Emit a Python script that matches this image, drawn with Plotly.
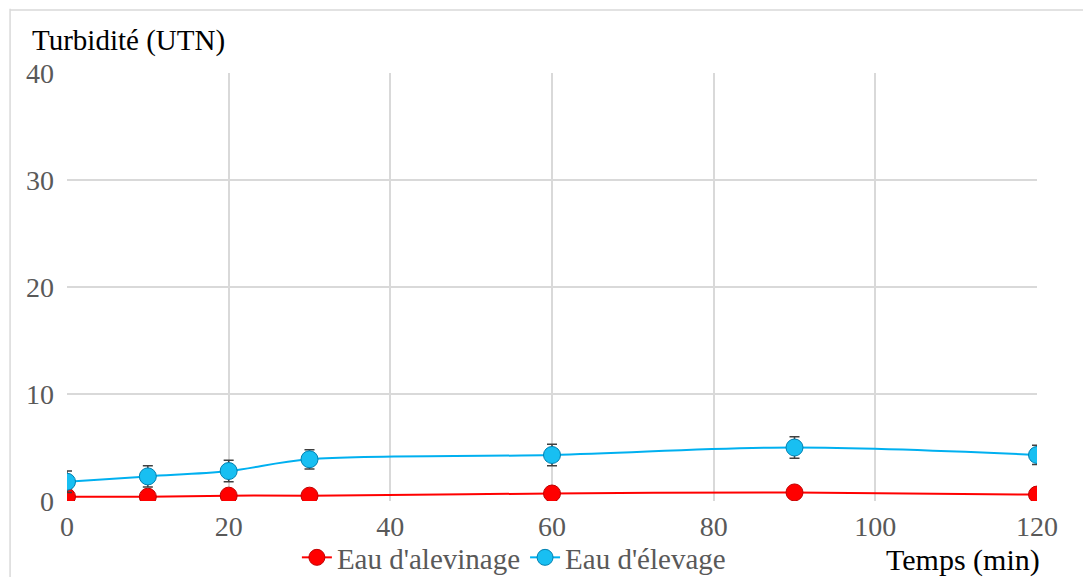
import plotly.graph_objects as go

# Sampling times (min)
temps = [0, 10, 20, 30, 60, 90, 120]

# Turbidity (UTN) per water type
alevinage = [0.4, 0.4, 0.5, 0.5, 0.7, 0.8, 0.6]
alevinage_err = [0.2, 0.2, 0.2, 0.2, 0.2, 0.2, 0.2]
elevage = [1.8, 2.3, 2.8, 3.9, 4.3, 5.0, 4.3]
elevage_err = [1.0, 1.0, 1.0, 0.9, 1.0, 1.0, 0.9]

font_family = "'Liberation Serif', 'Times New Roman', serif"

fig = go.Figure()

fig.add_trace(go.Scatter(
    x=temps, y=alevinage, name="Eau d'alevinage",
    mode="lines+markers",
    line=dict(color="#FF0000", width=2, shape="spline"),
    marker=dict(symbol="circle", size=17, color="#FF0000",
                line=dict(color="#C00000", width=1)),
    error_y=dict(type="data", array=alevinage_err, color="#404040",
                 thickness=1.5, width=5),
))

fig.add_trace(go.Scatter(
    x=temps, y=elevage, name="Eau d'élevage",
    mode="lines+markers",
    line=dict(color="#00B0F0", width=2, shape="spline"),
    marker=dict(symbol="circle", size=17, color="#18BFF2",
                line=dict(color="#0080B0", width=1)),
    error_y=dict(type="data", array=elevage_err, color="#404040",
                 thickness=1.5, width=5),
))

fig.update_layout(
    width=1083, height=577,
    margin=dict(l=67, r=46, t=73, b=76, autoexpand=False),
    paper_bgcolor="white", plot_bgcolor="white",
    font=dict(family=font_family, size=28, color="#595959"),
    showlegend=True,
    legend=dict(orientation="h", x=0.237, xanchor="left",
                yref="container", y=0.078, yanchor="top",
                font=dict(family=font_family, size=29, color="#595959"),
                itemwidth=30, tracegroupgap=0,
                bgcolor="rgba(0,0,0,0)"),
    xaxis=dict(range=[0, 120], dtick=20, tick0=0,
               showgrid=True, gridcolor="#D9D9D9", gridwidth=1.5,
               zeroline=False, showline=False, ticks="",
               ticklabelstandoff=6,
               tickfont=dict(family=font_family, size=28, color="#595959")),
    yaxis=dict(range=[0, 40], dtick=10, tick0=0,
               showgrid=True, gridcolor="#D9D9D9", gridwidth=1.5,
               zeroline=False, showline=False, ticks="",
               ticklabelstandoff=12,
               tickfont=dict(family=font_family, size=28, color="#595959")),
    annotations=[
        dict(text="Turbidité (UTN)", xref="paper", yref="paper",
             x=-0.038, y=1.077, xanchor="left", yanchor="middle",
             showarrow=False,
             font=dict(family=font_family, size=29, color="black")),
        dict(text="Temps (min)", xref="paper", yref="paper",
             x=0.924, y=-0.137, xanchor="center", yanchor="middle",
             showarrow=False,
             font=dict(family=font_family, size=30, color="black")),
    ],
    shapes=[
        dict(type="line", xref="paper", yref="paper",
             x0=-0.0587, x1=-0.0587, y0=1.15, y1=-0.2,
             line=dict(color="#D9D9D9", width=1.5)),
        dict(type="line", xref="paper", yref="paper",
             x0=-0.0587, x1=1.05, y0=1.147, y1=1.147,
             line=dict(color="#D9D9D9", width=1.5)),
    ],
)

fig.write_html("out.html")
